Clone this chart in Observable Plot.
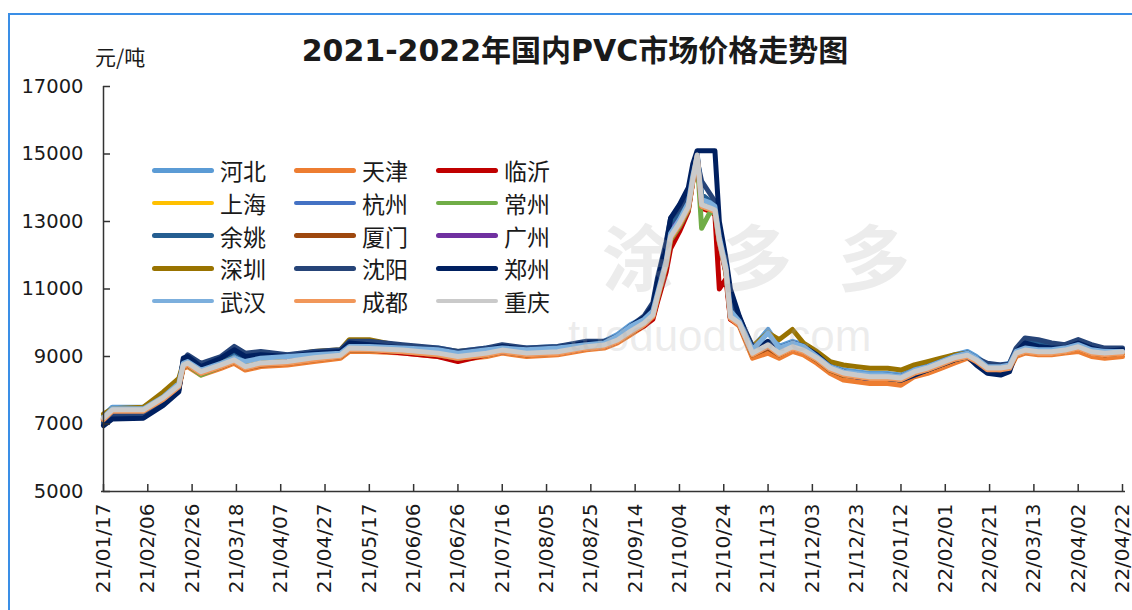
<!DOCTYPE html>
<html><head><meta charset="utf-8">
<script src="https://cdn.jsdelivr.net/npm/d3@7"></script>
<script src="https://cdn.jsdelivr.net/npm/@observablehq/plot@0.6"></script>
<style>
body{margin:0;background:#fff;}
#wrap{position:relative;width:1132px;height:610px;overflow:hidden;background:#fff;font-family:"DejaVu Sans","Noto Sans CJK SC",sans-serif;color:#1a1a1a;}
#borderTop{position:absolute;left:8px;top:13px;width:1124px;height:2px;background:#3a8ee6;}
#borderLeft{position:absolute;left:8px;top:13px;width:2px;height:597px;background:#3a8ee6;}
#title{position:absolute;left:575px;top:33px;transform:translateX(-50%);white-space:nowrap;font-size:30px;font-weight:bold;line-height:36px;font-family:"DejaVu Sans","Noto Sans CJK SC",sans-serif;}
#unit{position:absolute;left:95px;top:42px;font-size:21px;line-height:28px;font-family:"Noto Sans CJK SC",sans-serif;}
#legend{position:absolute;left:152px;top:154px;display:grid;grid-template-columns:142px 142px 142px;grid-auto-rows:32.7px;}
.item{display:flex;align-items:center;font-family:"Noto Sans CJK SC",sans-serif;font-size:23px;}
.sw{width:62px;height:4.5px;border-radius:3px;margin-right:6px;}
.wm{position:absolute;color:rgba(170,170,170,0.22);font-weight:bold;white-space:nowrap;pointer-events:none;line-height:1;}
</style></head><body><div id="wrap"><div id="borderTop"></div><div id="borderLeft"></div></div>
<script>
const cities = ["河北","天津","临沂","上海","杭州","常州","余姚","厦门","广州","深圳","沈阳","郑州","武汉","成都","重庆"];
const colors = ["#5B9BD5","#ED7D31","#C00000","#FFC000","#4472C4","#70AD47","#255E91","#9E480E","#7030A0","#997300","#264478","#002060","#7CAFDD","#F1975A","#CACACA"];
const yTicks = [5000,7000,9000,11000,13000,15000,17000];
const xTicks = ["2021-01-17","2021-02-06","2021-02-26","2021-03-18","2021-04-07","2021-04-27","2021-05-17","2021-06-06","2021-06-26","2021-07-16","2021-08-05","2021-08-25","2021-09-14","2021-10-04","2021-10-24","2021-11-13","2021-12-03","2021-12-23","2022-01-12","2022-02-01","2022-02-21","2022-03-13","2022-04-02","2022-04-22"];
const dates = ["2021-01-17","2021-01-21","2021-02-04","2021-02-13","2021-02-20","2021-02-22","2021-02-24","2021-03-02","2021-03-11","2021-03-17","2021-03-22","2021-03-29","2021-04-10","2021-04-22","2021-05-04","2021-05-08","2021-05-17","2021-06-01","2021-06-17","2021-06-26","2021-07-09","2021-07-16","2021-07-27","2021-08-10","2021-08-23","2021-08-31","2021-09-06","2021-09-12","2021-09-18","2021-09-22","2021-09-24","2021-09-28","2021-09-30","2021-10-04","2021-10-08","2021-10-10","2021-10-12","2021-10-14","2021-10-18","2021-10-20","2021-10-22","2021-10-25","2021-10-27","2021-10-31","2021-11-06","2021-11-13","2021-11-18","2021-11-24","2021-11-29","2021-12-05","2021-12-11","2021-12-17","2021-12-23","2021-12-29","2022-01-06","2022-01-12","2022-01-18","2022-01-24","2022-01-30","2022-02-05","2022-02-11","2022-02-15","2022-02-20","2022-02-26","2022-03-02","2022-03-05","2022-03-09","2022-03-15","2022-03-21","2022-03-27","2022-04-02","2022-04-08","2022-04-14","2022-04-22"];

const hebei = [7250,7500,7500,7850,8250,8800,8900,8650,8850,9000,8900,9000,9050,9100,9150,9350,9350,9300,9250,9150,9250,9300,9250,9300,9400,9450,9650,9950,10150,10400,10900,11900,12700,13100,13600,14400,14950,13700,13600,13500,12600,11700,10400,10100,9250,9800,9300,9450,9350,9050,8750,8600,8550,8500,8500,8450,8650,8750,8900,9050,9150,9000,8750,8750,8800,9200,9300,9250,9250,9300,9400,9250,9200,9200];
const tianjin = [7100,7350,7350,7700,8050,8650,8700,8450,8650,8800,8600,8700,8750,8850,8950,9150,9150,9100,9000,8900,9000,9100,9000,9050,9200,9250,9400,9650,9900,10150,10650,11650,12450,12850,13350,14150,14850,13400,13300,13250,12350,11450,10100,9900,8950,9100,8950,9150,9050,8800,8500,8300,8250,8200,8200,8150,8400,8500,8650,8800,8950,8800,8550,8550,8600,9000,9100,9050,9050,9100,9150,9000,8950,9000];
const linyi = [7150,7400,7400,7750,8100,8700,8750,8500,8700,8850,8700,8800,8850,8950,9000,9200,9200,9100,9000,8850,9050,9150,9050,9100,9250,9300,9450,9700,9900,10100,10600,11500,12200,12700,13300,14200,14900,13400,13300,13200,11000,11300,10100,9950,9050,9300,9050,9250,9150,8900,8600,8450,8400,8350,8350,8300,8500,8600,8750,8900,9000,8850,8600,8600,8650,9050,9150,9100,9100,9150,9250,9100,9050,9100];
const shanghai = [7200,7420,7420,7780,8150,8750,8800,8550,8750,8900,8700,8800,8850,8950,9050,9250,9250,9200,9100,9000,9100,9200,9100,9150,9300,9350,9500,9750,10000,10250,10800,11800,12550,12950,13450,14250,14950,13500,13400,13350,12450,11550,10200,10000,9100,9350,9100,9300,9200,8950,8650,8500,8450,8400,8400,8350,8550,8650,8800,8950,9050,8900,8650,8650,8700,9100,9200,9150,9150,9200,9300,9150,9100,9150];
const hangzhou = [7150,7400,7400,7750,8150,8800,8850,8600,8800,8950,8800,8900,8950,9050,9100,9300,9300,9250,9200,9100,9200,9250,9200,9250,9350,9400,9550,9850,10100,10350,10850,11850,12650,13050,13550,14300,14950,13550,13450,13400,12500,11600,10300,10050,9200,9400,9200,9350,9250,9000,8700,8550,8450,8400,8400,8350,8550,8700,8850,9000,9050,8900,8650,8650,8700,9150,9250,9200,9200,9250,9350,9200,9150,9150];
const changzhou = [7150,7400,7400,7750,8100,8700,8750,8450,8700,8850,8700,8800,8850,8950,9000,9200,9200,9150,9050,8950,9050,9150,9050,9100,9250,9300,9450,9700,9950,10200,10700,11700,12450,12850,13350,14200,14900,12800,13300,13250,12400,11500,10150,9950,9050,9300,9050,9250,9150,8900,8600,8450,8400,8350,8350,8300,8500,8600,8750,8900,9000,8850,8600,8600,8650,9050,9150,9100,9100,9150,9250,9100,9050,9100];
const yuyao = [7050,7300,7300,7650,8050,8850,8950,8700,8900,9150,8950,9000,9000,9100,9150,9350,9400,9300,9200,9100,9200,9300,9200,9250,9400,9400,9550,9850,10100,10450,11100,12200,12900,13300,13700,14500,15000,13800,13600,13500,12700,11700,10500,10100,9250,9400,9200,9350,9250,9000,8700,8550,8450,8400,8400,8400,8550,8700,8850,9000,9100,8900,8700,8650,8700,9200,9450,9400,9300,9300,9450,9300,9200,9200];
const xiamen = [7120,7380,7380,7720,8100,8700,8750,8500,8700,8850,8650,8750,8800,8900,9000,9200,9200,9150,9050,8950,9050,9150,9050,9100,9250,9300,9450,9700,9950,10200,10700,11700,12500,12900,13400,14200,14900,13450,13350,13300,12400,11500,10150,9950,9050,9250,9050,9250,9150,8900,8600,8450,8400,8350,8350,8300,8500,8600,8750,8900,9000,8850,8600,8600,8650,9050,9150,9100,9100,9150,9250,9100,9050,9100];
const guangzhou = [7150,7400,7400,7750,8150,8750,8800,8550,8750,8900,8700,8800,8850,8950,9050,9250,9250,9150,9100,9000,9100,9150,9100,9100,9250,9300,9450,9750,10000,10250,10800,11900,12700,13050,13450,14250,14950,13500,13400,13300,12400,11500,10150,9950,9100,9300,9100,9250,9150,8950,8650,8500,8400,8350,8350,8400,8550,8650,8800,8950,9050,8900,8650,8650,8700,9100,9200,9150,9150,9200,9300,9150,9100,9150];
const shenzhen = [7300,7450,7500,7950,8350,8800,8850,8600,8800,8950,8800,8900,9000,9150,9200,9500,9500,9300,9200,9150,9200,9250,9200,9250,9350,9400,9500,9750,10000,10250,10800,11800,12600,13000,13500,14300,14900,13600,13500,13400,12500,11600,10300,10100,9300,9700,9500,9800,9400,9150,8850,8750,8700,8650,8650,8600,8750,8850,8950,9050,9100,8900,8650,8650,8700,9100,9200,9150,9150,9200,9300,9150,9100,9150];
const shenyang = [7000,7250,7250,7600,8000,8900,9050,8800,9000,9300,9100,9150,9050,9150,9200,9450,9450,9350,9250,9150,9250,9350,9250,9300,9450,9450,9600,9900,10200,10600,11300,12400,13100,13400,13800,14500,14800,14200,13800,13600,12800,11800,10700,10150,9300,9400,9200,9400,9300,9000,8700,8550,8450,8400,8450,8400,8600,8700,8850,9000,9100,8950,8800,8750,8800,9250,9550,9500,9400,9350,9500,9350,9250,9250];
const zhengzhou = [6950,7150,7170,7550,7950,8950,9000,8700,8950,9200,9000,9050,9000,9100,9150,9400,9350,9250,9200,9100,9200,9300,9200,9250,9400,9400,9550,9900,10150,10500,11200,12300,13100,13500,14000,14700,15100,15100,15100,15100,13000,11900,11000,10200,9200,9450,9250,9400,9300,9050,8700,8500,8400,8350,8350,8300,8450,8600,8750,8900,9000,8750,8500,8450,8550,9150,9400,9300,9250,9250,9400,9250,9150,9200];
const wuhan = [7200,7450,7450,7800,8200,8800,8850,8600,8800,8950,8850,8950,9000,9050,9100,9300,9300,9250,9200,9100,9200,9250,9200,9250,9350,9400,9600,9900,10100,10350,10850,11850,12650,13050,13550,14350,14950,13650,13550,13450,12550,11650,10350,10050,9200,9700,9250,9400,9300,9000,8700,8550,8500,8450,8450,8400,8600,8700,8850,9000,9100,8950,8700,8700,8750,9150,9250,9200,9200,9250,9350,9200,9150,9150];
const chengdu = [7130,7380,7380,7730,8100,8700,8760,8500,8700,8850,8650,8760,8800,8900,9000,9200,9200,9140,9050,8950,9050,9140,9050,9090,9240,9290,9440,9700,9940,10180,10720,11720,12500,12900,13390,14180,14920,13450,13350,13290,12400,11510,10130,9940,9050,9300,9050,9240,9140,8910,8610,8460,8400,8350,8350,8310,8500,8610,8760,8910,8990,8850,8610,8610,8650,9050,9140,9090,9090,9140,9240,9090,9050,9090];
const chongqing = [7180,7420,7420,7780,8150,8750,8810,8550,8750,8900,8700,8810,8850,8960,9040,9250,9240,9190,9100,9000,9100,9190,9100,9140,9290,9340,9490,9750,9990,10230,10770,11770,12550,12950,13440,14230,14970,13500,13400,13340,12450,11560,10180,9990,9100,9350,9100,9290,9190,8960,8660,8510,8450,8400,8400,8360,8550,8660,8810,8960,9040,8900,8660,8660,8700,9100,9190,9140,9140,9190,9290,9140,9100,9140];

const seriesList = [hebei,tianjin,linyi,shanghai,hangzhou,changzhou,yuyao,xiamen,guangzhou,shenzhen,shenyang,zhengzhou,wuhan,chengdu,chongqing];
const rows = cities.flatMap((c,i) => dates.map((d,j) => ({city:c, date:new Date(d), value:seriesList[i][j]})));

const wrap = document.getElementById("wrap");
const chart = Plot.plot({
  width:1132, height:610,
  marginLeft:103, marginRight:10, marginTop:86, marginBottom:119,
  style:{fontFamily:"DejaVu Sans, sans-serif", color:"#1a1a1a", background:"transparent", overflow:"visible"},
  x:{type:"utc", domain:[new Date(xTicks[0]), new Date(xTicks[xTicks.length-1])]},
  y:{domain:[yTicks[0], yTicks[yTicks.length-1]]},
  color:{domain:cities, range:colors},
  marks:[
    Plot.line(rows,{x:"date", y:"value", z:"city", stroke:"city", strokeWidth:5, strokeLinejoin:"round", strokeLinecap:"round"}),
    Plot.ruleX([new Date(xTicks[0])],{stroke:"#333", strokeWidth:1.5}),
    Plot.ruleY([yTicks[0]],{stroke:"#333", strokeWidth:1.5, x1:new Date(xTicks[0]), x2:new Date(xTicks[xTicks.length-1]), insetLeft:-2, insetRight:-3}),
    Plot.axisY({ticks:yTicks, tickSize:-7, tickPadding:27, tickFormat:d=>String(d), fontSize:19.5, label:null, stroke:"#333", strokeWidth:1.5}),
    Plot.axisX({ticks:xTicks.map(d=>new Date(d)), tickFormat:d3.utcFormat("%y/%m/%d"), tickRotate:-90, tickSize:-7, tickPadding:19, fontSize:20, label:null, stroke:"#333", strokeWidth:1.5})
  ]
});
chart.style.position="absolute"; chart.style.left="0px"; chart.style.top="0px";
wrap.appendChild(chart);

function addDiv(id, text, cls){const d=document.createElement("div"); if(id) d.id=id; if(cls) d.className=cls; d.textContent=text; wrap.appendChild(d); return d;}
addDiv("title","2021-2022年国内PVC市场价格走势图");
addDiv("unit","元/吨");

const wm1 = addDiv(null,"涂多多","wm"); Object.assign(wm1.style,{left:"602px",top:"218px",fontSize:"72px",letterSpacing:"46px",fontFamily:"Noto Sans CJK SC"});
const wm2 = addDiv(null,"tuoduoduo.com","wm"); Object.assign(wm2.style,{left:"568px",top:"314px",fontSize:"44px",fontFamily:"Liberation Sans",fontWeight:"normal"});

const legend = document.createElement("div"); legend.id="legend";
cities.forEach((c,i)=>{
  const it=document.createElement("div"); it.className="item";
  const sw=document.createElement("span"); sw.className="sw"; sw.style.background=colors[i];
  const tx=document.createElement("span"); tx.textContent=c;
  it.appendChild(sw); it.appendChild(tx); legend.appendChild(it);
});
wrap.appendChild(legend);
</script></body></html>
